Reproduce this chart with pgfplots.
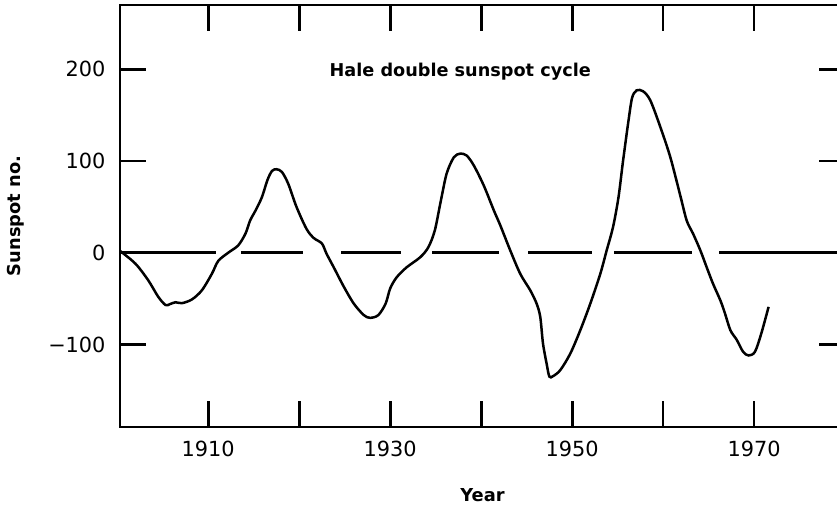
\documentclass[border=0pt]{standalone}
\usepackage{fontspec}
\setmainfont{DejaVu Sans}
\usepackage{pgfplots}
\pgfplotsset{compat=1.18}
\begin{document}
\begin{tikzpicture}
\begin{axis}[name=ax, scale only axis, width=435pt, height=253.2pt,
  xmin=1900.3, xmax=1980, ymin=-190, ymax=270,
  xtick={1910,1920,1930,1940,1950,1960,1970},
  xticklabels={1910,,1930,,1950,,1970},
  ytick={-100,0,100,200},
  yticklabels={−100,0,100,200},
  tick align=inside, major tick length=15.5pt,
  tick style={line width=1.7pt, black},
  axis line style={line width=1.7pt},
  xticklabel style={font=\fontsize{12.5}{15}\selectfont, anchor=north, inner sep=0pt, yshift=-8.5pt},
  yticklabel style={font=\fontsize{12.5}{15}\selectfont, anchor=east, inner sep=0pt, xshift=-8.5pt},
  xlabel={Year}, ylabel={Sunspot no.},
  label style={font=\bfseries\fontsize{10.7}{13}\selectfont},
  xlabel style={at={(axis description cs:0.5,-0.161)}, anchor=center},
  ylabel style={at={(axis description cs:-0.1434,0.5)}, anchor=center},
  unbounded coords=jump,
]
\addplot[black, line width=1.6pt] coordinates {
(1902.6,0)(1910.8,0)(1910.9,nan)
(1913.6,0)(1920.4,0)(1920.5,nan)
(1924.6,0)(1931.2,0)(1931.3,nan)
(1934.6,0)(1942.0,0)(1942.1,nan)
(1945.2,0)(1952.2,0)(1952.3,nan)
(1954.6,0)(1963.2,0)(1963.3,nan)
(1966.2,0)(1980,0)
};
\addplot[black, line width=1.5pt, smooth, tension=0.5] coordinates {
(1900.3,2)(1902.0,-12)(1903.4,-30)(1904.5,-48)(1905.3,-57)(1905.8,-56)
(1906.4,-54)(1907.1,-55)(1908.2,-51)(1909.3,-41)(1910.4,-23)(1911.1,-9)
(1912.2,0)(1913.3,8)(1914.1,21)(1914.6,35)(1915.2,46)(1915.9,60.5)
(1916.5,79)(1917.0,89)(1917.5,91)(1918.1,88)(1918.8,75)(1919.7,50)
(1920.8,26)(1921.6,16)(1922.5,10)(1923.0,-1)(1923.8,-16)
(1924.9,-37)(1926.0,-55.5)(1927.1,-68)(1927.8,-71)(1928.7,-68)(1929.5,-55.5)
(1930.0,-39)(1930.7,-27)(1931.8,-16)(1933.3,-5)(1934.2,6)(1934.9,24)
(1935.5,53)(1936.2,86)(1937.0,104)(1937.7,108)(1938.4,106)(1939.2,95)
(1940.3,73)(1941.4,46)(1942.1,30)(1943.2,2.5)(1944.3,-23)(1945.4,-41)
(1946.1,-55.5)(1946.5,-70)(1946.8,-99)(1947.2,-121)(1947.5,-135)(1947.9,-134.6)
(1948.7,-128)(1949.8,-110)(1950.9,-84.5)(1952.0,-55.5)(1953.1,-23)(1953.8,2.5)
(1954.5,28)(1955.1,60.5)(1955.6,100)(1956.2,144)(1956.6,169)(1957.1,177)
(1957.8,176)(1958.6,166)(1959.7,137)(1960.8,104)(1961.9,62)(1962.6,35)
(1963.3,20.7)(1964.1,2.5)(1964.8,-16)(1965.5,-34)(1966.3,-52)(1966.8,-66)
(1967.4,-84.5)(1968.1,-95)(1968.8,-108)(1969.4,-112)(1970.1,-108)(1970.8,-88)
(1971.6,-59)
};
\node[font=\bfseries\fontsize{10.6}{13}\selectfont] at (axis cs:1937.7,197) {Hale double sunspot cycle};
\end{axis}
\pgfresetboundingbox
\path[use as bounding box] (ax.south west) ++(-72pt,-49.8pt) rectangle ++(502.2pt,306pt);
\end{tikzpicture}
\end{document}
